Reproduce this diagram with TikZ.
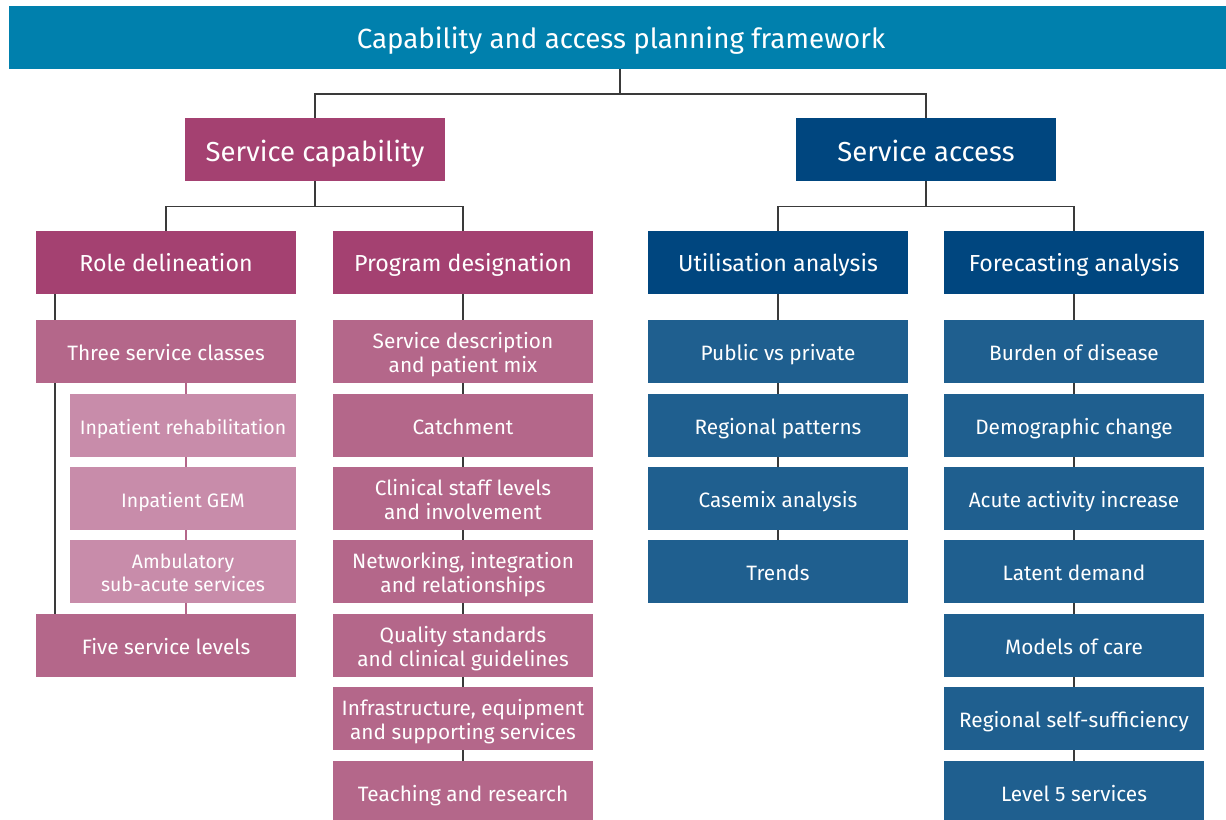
\documentclass[tikz,border=0pt]{standalone}
\usepackage{fontspec}
\setmainfont{Fira Sans}
\usetikzlibrary{backgrounds}
\definecolor{titlec}{HTML}{0080AD}
\definecolor{magA}{HTML}{A44171}
\definecolor{magB}{HTML}{B4678A}
\definecolor{magC}{HTML}{C88CAA}
\definecolor{bluA}{HTML}{00467F}
\definecolor{bluB}{HTML}{1F5F8F}
\definecolor{linec}{HTML}{3A3A3A}
\tikzset{
  box/.style={rectangle, draw=none, text=white, align=center, inner sep=0pt,
    minimum width=195pt, minimum height=47.25pt, font=\fontsize{15.6}{18}\selectfont,
    text height=13.9pt, text depth=0pt},
  dbl/.style={text height=31.9pt, text depth=0pt},
  titlebox/.style={box, fill=titlec, minimum width=918pt, font=\fontsize{20.8}{24}\selectfont,
    text height=16.5pt},
  lvtwo/.style={box, font=\fontsize{20.6}{24}\selectfont, text height=18pt},
  lvthree/.style={box, font=\fontsize{17.4}{20}\selectfont, text height=13.5pt},
  capA/.style={fill=magA}, capB/.style={fill=magB},
  capC/.style={fill=magC, minimum width=169.5pt, font=\fontsize{14.6}{17}\selectfont, text height=13pt},
  dblC/.style={text height=30pt, text depth=0pt},
  accA/.style={fill=bluA}, accB/.style={fill=bluB},
  conn/.style={draw=linec, line width=1pt},
  pconn/.style={draw=magB, line width=1.2pt}
}
\begin{document}
\begin{tikzpicture}[x=0.75pt, y=-0.75pt]
\useasboundingbox (0,0) rectangle (1226,819);
\clip (0,0) rectangle (1226,819);
% title
\node[titlebox] (title) at (621,37.5) {Capability and access planning framework};
% level 2
\node[lvtwo, capA] (sc) at (315,149.5) {Service capability};
\node[lvtwo, accA] (sa) at (926,149.5) {Service access};
% level 3
\node[lvthree, capA] (rd) at (166,262.5) {Role delineation};
\node[lvthree, capA] (pd) at (463,262.5) {Program designation};
\node[lvthree, accA] (ua) at (778,262.5) {Utilisation analysis};
\node[lvthree, accA] (fa) at (1074,262.5) {Forecasting analysis};
% role delineation column
\node[box, capB] (tsc) at (166,351.5) {Three service classes};
\node[box, capC] (ir) at (183,425.5) {Inpatient rehabilitation};
\node[box, capC] (gem) at (183,498.5) {Inpatient GEM};
\node[box, capC, dblC] (amb) at (183,571.5) {Ambulatory\\sub-acute services};
\node[box, capB] (fsl) at (166,645.5) {Five service levels};
% program designation column
\node[box, capB, dbl] (sd) at (463,351.5) {Service description\\and patient mix};
\node[box, capB] (ca) at (463,425.5) {Catchment};
\node[box, capB, dbl] (cs) at (463,498.5) {Clinical staff levels\\and involvement};
\node[box, capB, dbl] (ni) at (463,571.5) {Networking, integration\\and relationships};
\node[box, capB, dbl] (qs) at (463,645.5) {Quality standards\\and clinical guidelines};
\node[box, capB, dbl] (ie) at (463,718.5) {Infrastructure, equipment\\and supporting services};
\node[box, capB] (tr) at (463,792.5) {Teaching and research};
% utilisation column
\node[box, accB] (pp) at (778,351.5) {Public vs private};
\node[box, accB] (rp) at (778,425.5) {Regional patterns};
\node[box, accB] (cm) at (778,498.5) {Casemix analysis};
\node[box, accB] (te) at (778,571.5) {Trends};
% forecasting column
\node[box, accB] (bd) at (1074,351.5) {Burden of disease};
\node[box, accB] (dc) at (1074,425.5) {Demographic change};
\node[box, accB] (aa) at (1074,498.5) {Acute activity increase};
\node[box, accB] (ld) at (1074,571.5) {Latent demand};
\node[box, accB] (mc) at (1074,645.5) {Models of care};
\node[box, accB] (rs) at (1074,718.5) {Regional self-sufficiency};
\node[box, accB] (lf) at (1074,792.5) {Level 5 services};
% junctions
\coordinate (j1) at (620,94);
\coordinate (j2) at (315,206.7);
\coordinate (j3) at (926,206.7);
\coordinate (lx) at (55,0);
\coordinate (px) at (186,0);
\begin{scope}[on background layer]
\draw[conn] (j1) -- (j1 |- title.south);
\draw[conn] (sc.north) |- (j1) -| (sa.north);
\draw[conn] (sc.south) -- (j2);
\draw[conn] (rd.north) |- (j2) -| (pd.north);
\draw[conn] (sa.south) -- (j3);
\draw[conn] (ua.north) |- (j3) -| (fa.north);
\draw[conn] (rd.south -| lx) -- (fsl.north -| lx);
\draw[pconn] (tsc.south -| px) -- (fsl.north -| px);
\draw[conn] (pd.south) -- (tr.north);
\draw[conn] (ua.south) -- (te.north);
\draw[conn] (fa.south) -- (lf.north);
\end{scope}
\end{tikzpicture}
\end{document}
